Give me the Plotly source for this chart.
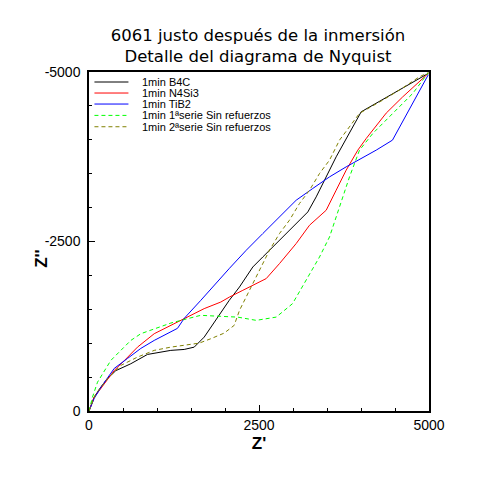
# Diagrama de Nyquist - detalle (6061 justo después de la inmersión)
import plotly.graph_objects as go

# datos: Z' y Z'' (Z'' negativo)
b4c_x = [0, 76, 174, 272, 394, 615, 860, 1203, 1400, 1547, 1694, 1890, 2062, 2213,
         2409, 2556, 2801, 3047, 3218, 3341, 3488, 3635, 4003, 4990]
b4c_y = [0, -204, -352, -480, -595, -697, -834, -894, -908, -942, -1090, -1385, -1632, -1829,
         -2124, -2272, -2518, -2765, -2936, -3158, -3453, -3749, -4413, -4980]

n4si3_x = [0, 76, 174, 371, 518, 713, 959, 1203, 1400, 1694, 1938, 2066, 2262, 2606,
           2801, 3047, 3243, 3488, 3635, 3782, 3953, 4077, 4371, 4610, 4990]
n4si3_y = [0, -204, -332, -598, -742, -942, -1140, -1263, -1362, -1510, -1607, -1681, -1780, -1953,
           -2174, -2470, -2740, -2961, -3257, -3552, -3847, -4020, -4394, -4630, -4980]

tib2_x = [0, 76, 174, 371, 566, 762, 959, 1154, 1301, 1400, 1547, 1644, 2066, 2312,
          2556, 2801, 3047, 3291, 3537, 3782, 4224, 4463, 4990]
tib2_y = [0, -185, -347, -628, -775, -923, -1041, -1145, -1219, -1366, -1533, -1632, -2105, -2371,
          -2617, -2862, -3109, -3282, -3453, -3601, -3848, -3995, -4960]

s1_x = [0, 51, 125, 224, 321, 468, 615, 762, 959, 1203, 1449, 1644, 1938, 2184,
        2459, 2753, 2993, 3194, 3390, 3537, 3635, 3732, 3831, 3978, 4174, 4468, 4762, 4990]
s1_y = [0, -204, -425, -598, -746, -894, -1041, -1140, -1214, -1297, -1362, -1411, -1396, -1385,
        -1337, -1385, -1583, -1928, -2272, -2567, -2862, -3158, -3453, -3847, -4094, -4390, -4685, -4990]

s2_x = [0, 100, 272, 468, 713, 959, 1203, 1449, 1621, 1791, 1988, 2135, 2213, 2360,
        2507, 2654, 2801, 2948, 3095, 3243, 3390, 3537, 3684, 3978, 4321, 4566, 4860, 4990]
s2_y = [0, -254, -476, -672, -795, -894, -942, -978, -1001, -1066, -1149, -1263, -1484, -1780,
        -2075, -2371, -2617, -2814, -3060, -3257, -3503, -3700, -3995, -4390, -4586, -4734, -4930, -4990]

nombres = ['1min B4C', '1min N4Si3', '1min TiB2',
           '1min 1ªserie Sin refuerzos', '1min 2ªserie Sin refuerzos']
colores = ['#000000', '#ff0000', '#0000ff', '#00ff00', '#808000']
estilos = ['solid', 'solid', 'solid', '4px,3px', '4px,3px']

x_ticks = [0, 2500, 5000]
x_ticktext = ['0', '2500', '5000']
y_ticks = [0, -2500, -5000]
y_ticktext = ['0', '-2500', '-5000']

series = [(b4c_x, b4c_y), (n4si3_x, n4si3_y), (tib2_x, tib2_y), (s1_x, s1_y), (s2_x, s2_y)]

fig = go.Figure()
for (xs, ys), nom, col, est in zip(series, nombres, colores, estilos):
    fig.add_trace(go.Scatter(x=xs, y=ys, mode='lines', name=nom, showlegend=False,
                             line=dict(color=col, width=1, dash=est)))

# leyenda compacta dibujada a mano (la de plotly deja demasiado espacio entre filas)
filas = [0.9705, 0.9380, 0.9055, 0.8720, 0.8385]
for fy, nom, col, est in zip(filas, nombres, colores, estilos):
    fig.add_shape(type='line', xref='x domain', yref='y domain',
                  x0=0.016, x1=0.116, y0=fy, y1=fy,
                  line=dict(color=col, width=1, dash=est))
    fig.add_annotation(xref='x domain', yref='y domain', x=0.151, y=fy,
                       xanchor='left', yanchor='middle', showarrow=False, text=nom,
                       font=dict(family='Liberation Sans', size=11, color='black'))

# título del eje Z'' como anotación para colocarlo igual que el original
fig.add_annotation(xref='x domain', yref='y domain', x=-0.142, y=0.448, textangle=-90,
                   xanchor='center', yanchor='middle',
                   showarrow=False, text="<b>Z''</b>",
                   font=dict(family='Liberation Sans', size=17, color='black'))

eje = dict(showgrid=False, zeroline=False, showline=True, linecolor='black', linewidth=1.5,
           mirror=True, ticks='inside', ticklen=6, tickcolor='black',
           minor=dict(dtick=500, ticks='inside', ticklen=3, tickcolor='black'),
           tickfont=dict(family='Liberation Sans', size=14, color='black'))

fig.update_layout(
    width=500, height=500,
    paper_bgcolor='white', plot_bgcolor='white',
    margin=dict(l=81, r=79, t=64, b=97),
    title=dict(text='6061 justo después de la inmersión<br>Detalle del diagrama de Nyquist',
               x=0.5, xanchor='center', y=0.934, yanchor='top',
               font=dict(family='DejaVu Sans', size=16.5, color='black')),
    xaxis=dict(eje, range=[0, 5000], tickvals=x_ticks, ticktext=x_ticktext,
               title=dict(text="<b>Z'</b>", standoff=6,
                          font=dict(family='Liberation Sans', size=17, color='black'))),
    yaxis=dict(eje, range=[0, -5000], tickvals=y_ticks, ticktext=y_ticktext,
               ticklabelstandoff=4),
    showlegend=False,
)

fig.write_html("out.html")
